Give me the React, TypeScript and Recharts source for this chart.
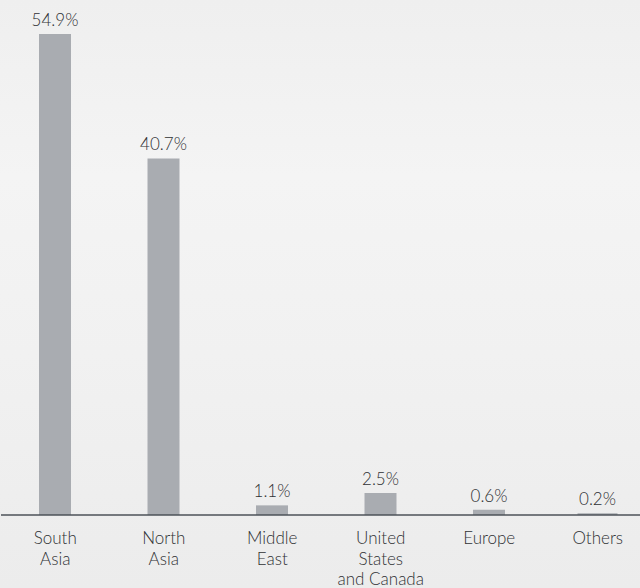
import { BarChart, Bar, XAxis, YAxis, LabelList, Rectangle } from 'recharts';

const REGIONS = ['South Asia', 'North Asia', 'Middle East', 'United States and Canada', 'Europe', 'Others'];
const TICK_LINES = [
  ['South', 'Asia'],
  ['North', 'Asia'],
  ['Middle', 'East'],
  ['United', 'States', 'and Canada'],
  ['Europe'],
  ['Others'],
];
const SHARES = [54.9, 40.7, 1.1, 2.5, 0.6, 0.2];

const data = REGIONS.map((region, i) => ({ region, share: SHARES[i] }));

const FONT = 'Lato, "Open Sans", sans-serif';
const INK = '#2f3134';

const RegionTick = (props: any) => {
  const { x, y, index } = props;
  const lines = TICK_LINES[index] ?? [];
  return (
    <text x={x} y={y} textAnchor="middle" fill={INK} fontSize={17} fontWeight={300} fontFamily={FONT}>
      {lines.map((line, i) => (
        <tspan key={i} x={x} dy={i === 0 ? 21 : 20.5}>{line}</tspan>
      ))}
    </text>
  );
};

// the last bar is a touch wider in the reference
const BarShape = (props: any) => {
  const wide = props.payload?.region === 'Others';
  return (
    <Rectangle
      {...props}
      x={wide ? props.x - 4 : props.x}
      width={wide ? props.width + 8 : props.width}
      fill="#a9acb1"
    />
  );
};

export default function App() {
  return (
    <div
      style={{
        position: 'absolute',
        left: 0,
        top: 0,
        width: 640,
        height: 588,
        overflow: 'hidden',
        background: 'linear-gradient(180deg, #efefef 0%, #f4f4f4 30%, #f1f1f1 60%, #ececec 100%)',
      }}
    >
      <BarChart
        width={652}
        height={588}
        data={data}
        margin={{ top: 34, right: 0, left: 1, bottom: 3 }}
        barSize={32}
      >
        <YAxis hide domain={[0, 54.9]} />
        <XAxis
          dataKey="region"
          interval={0}
          height={70}
          tickLine={false}
          axisLine={{ stroke: '#4d5258', strokeWidth: 1.5 }}
          tick={<RegionTick />}
        />
        <Bar dataKey="share" isAnimationActive={false} shape={<BarShape />}>
          <LabelList
            dataKey="share"
            position="top"
            offset={8}
            formatter={(v: any) => `${v}%`}
            style={{ fill: INK, fontSize: 17, fontWeight: 300, fontFamily: FONT }}
          />
        </Bar>
      </BarChart>
    </div>
  );
}
